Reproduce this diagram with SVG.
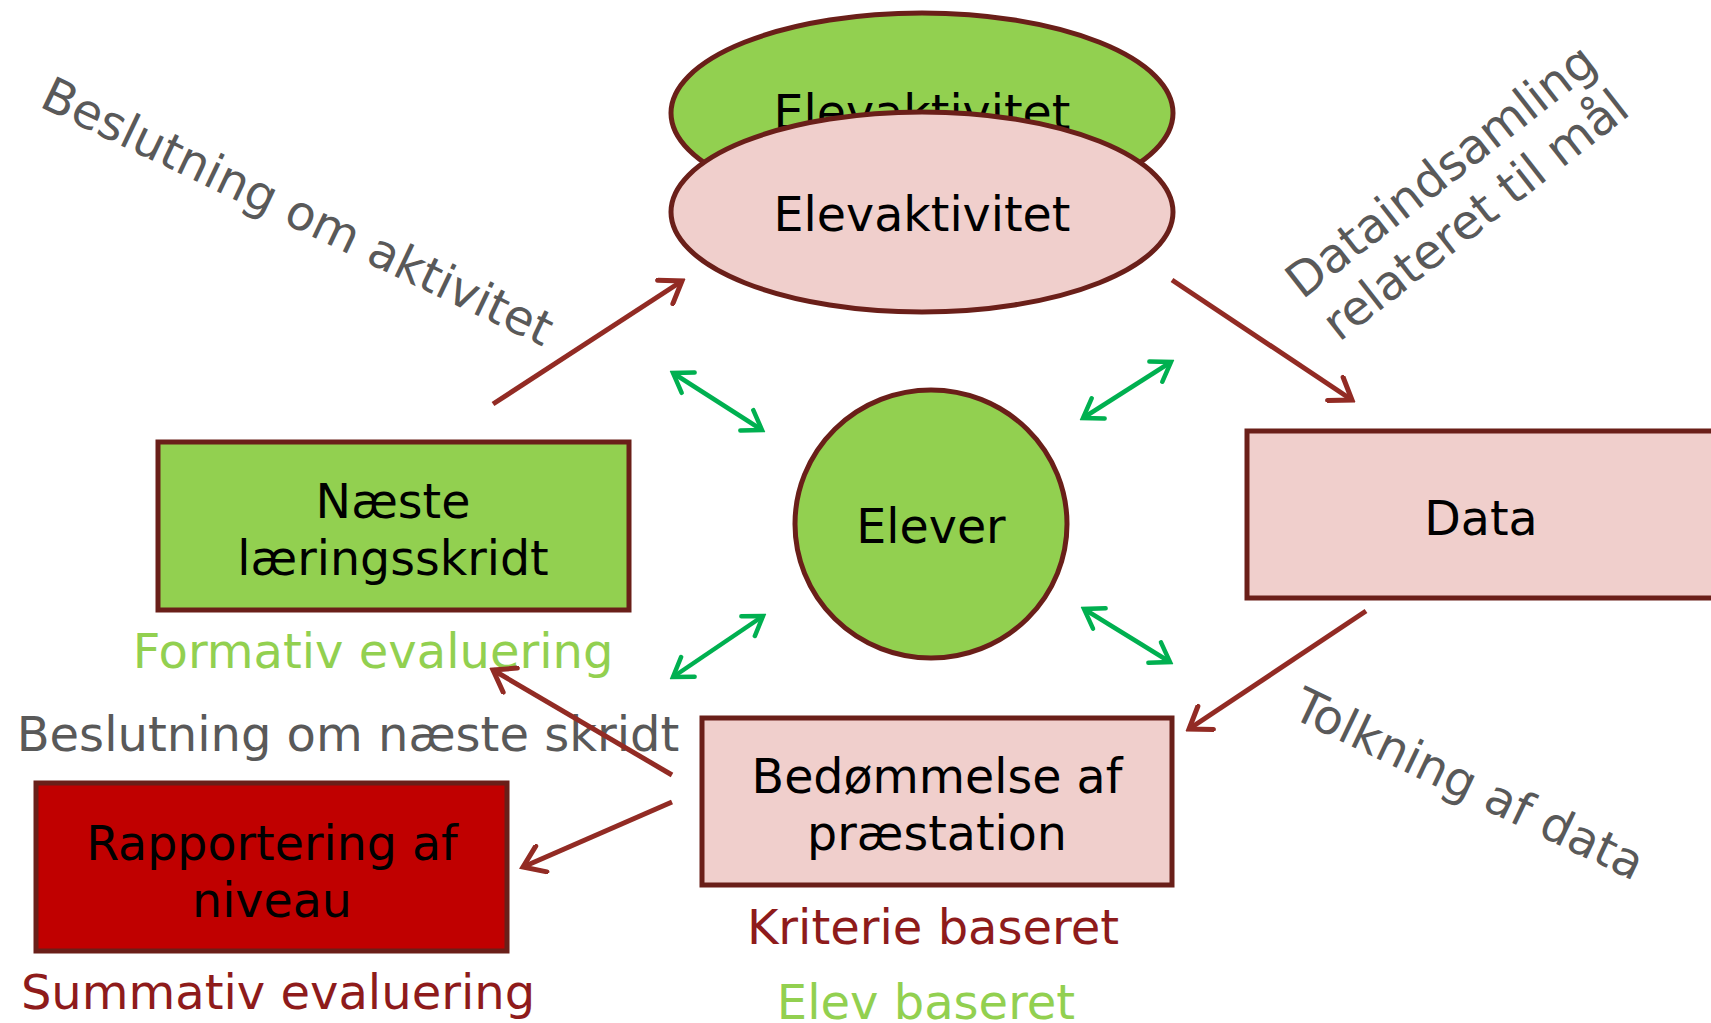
<svg xmlns="http://www.w3.org/2000/svg" width="1711" height="1023" viewBox="0 0 1711 1023">
<style>
text{font-family:"DejaVu Sans","Verdana",sans-serif;}
.node{stroke:#6A1F19;stroke-width:5;}
.nt{font-size:47.5px;fill:#000;text-anchor:middle;}
.lbl{font-size:48px;}
.gray{fill:#595959;}
.red{stroke:#922B24;stroke-width:5;fill:none;}
.grn{stroke:#00B050;stroke-width:4.5;fill:none;}
</style>
<defs>
<marker id="ahr" viewBox="-24 -16 28 32" refX="0" refY="0" markerWidth="28" markerHeight="32" markerUnits="userSpaceOnUse" orient="auto">
<path d="M-20,-14 L0,0 L-20,14" fill="none" stroke="#922B24" stroke-width="5" stroke-linecap="round"/>
</marker>
<marker id="ahg" viewBox="-24 -16 28 32" refX="0" refY="0" markerWidth="28" markerHeight="32" markerUnits="userSpaceOnUse" orient="auto-start-reverse">
<path d="M-18,-12 L0,0 L-18,12" fill="none" stroke="#00B050" stroke-width="4.5" stroke-linecap="round"/>
</marker>
</defs>
<rect width="1711" height="1023" fill="#fff"/>

<g id="elevaktivitet-back">
<ellipse class="node" cx="922" cy="113" rx="251" ry="100" fill="#92D050"/>
<text class="nt" x="922" y="129">Elevaktivitet</text>
</g>
<g id="elevaktivitet">
<ellipse class="node" cx="922" cy="212" rx="251" ry="100" fill="#F0CFCC"/>
<text class="nt" x="922" y="231">Elevaktivitet</text>
</g>
<g id="elever">
<ellipse class="node" cx="931" cy="524" rx="136" ry="134" fill="#92D050"/>
<text class="nt" x="931" y="543">Elever</text>
</g>
<g id="naeste">
<rect class="node" x="158" y="442" width="471" height="168" fill="#92D050"/>
<text class="nt" x="393" y="518">Næste</text>
<text class="nt" x="393" y="575">læringsskridt</text>
</g>
<g id="data">
<rect class="node" x="1247" y="431" width="480" height="167" fill="#F0CFCC"/>
<text class="nt" x="1481" y="535">Data</text>
</g>
<g id="bedommelse">
<rect class="node" x="702" y="718" width="470" height="167" fill="#F0CFCC"/>
<text class="nt" x="937" y="793">Bedømmelse af</text>
<text class="nt" x="937" y="850">præstation</text>
</g>
<g id="rapportering">
<rect class="node" x="36" y="783" width="471" height="168" fill="#C00000"/>
<text class="nt" x="272" y="860">Rapportering af</text>
<text class="nt" x="272" y="917">niveau</text>
</g>

<g id="labels">
<text class="lbl gray" transform="translate(38,106) rotate(25.5)">Beslutning om aktivitet</text>
<text class="lbl gray" transform="translate(1451,184) rotate(-38)" text-anchor="middle"><tspan x="0" y="0">Dataindsamling</tspan><tspan x="0" y="56">relateret til mål</tspan></text>
<text class="lbl gray" transform="translate(1290,717) rotate(25.5)">Tolkning af data</text>
<text class="lbl" x="373" y="668" text-anchor="middle" fill="#92D050">Formativ evaluering</text>
<text class="lbl gray" x="348" y="751" text-anchor="middle">Beslutning om næste skridt</text>
<text class="lbl" x="278" y="1009" text-anchor="middle" fill="#8E1B1B">Summativ evaluering</text>
<text class="lbl" x="933" y="944" text-anchor="middle" fill="#8E1B1B">Kriterie baseret</text>
<text class="lbl" x="926" y="1019" text-anchor="middle" fill="#92D050">Elev baseret</text>
</g>

<g id="connectors">
<line class="red" x1="493" y1="404" x2="682" y2="281" marker-end="url(#ahr)"/>
<line class="red" x1="1172" y1="280" x2="1352" y2="400" marker-end="url(#ahr)"/>
<line class="red" x1="1366" y1="611" x2="1189" y2="729" marker-end="url(#ahr)"/>
<line class="red" x1="672" y1="775" x2="493" y2="670" marker-end="url(#ahr)"/>
<line class="red" x1="672" y1="802" x2="523" y2="867" marker-end="url(#ahr)"/>
<line class="grn" x1="673" y1="373" x2="762" y2="430" marker-start="url(#ahg)" marker-end="url(#ahg)"/>
<line class="grn" x1="1083" y1="418" x2="1171" y2="362" marker-start="url(#ahg)" marker-end="url(#ahg)"/>
<line class="grn" x1="673" y1="677" x2="763" y2="616" marker-start="url(#ahg)" marker-end="url(#ahg)"/>
<line class="grn" x1="1084" y1="609" x2="1170" y2="662" marker-start="url(#ahg)" marker-end="url(#ahg)"/>
</g>
</svg>
